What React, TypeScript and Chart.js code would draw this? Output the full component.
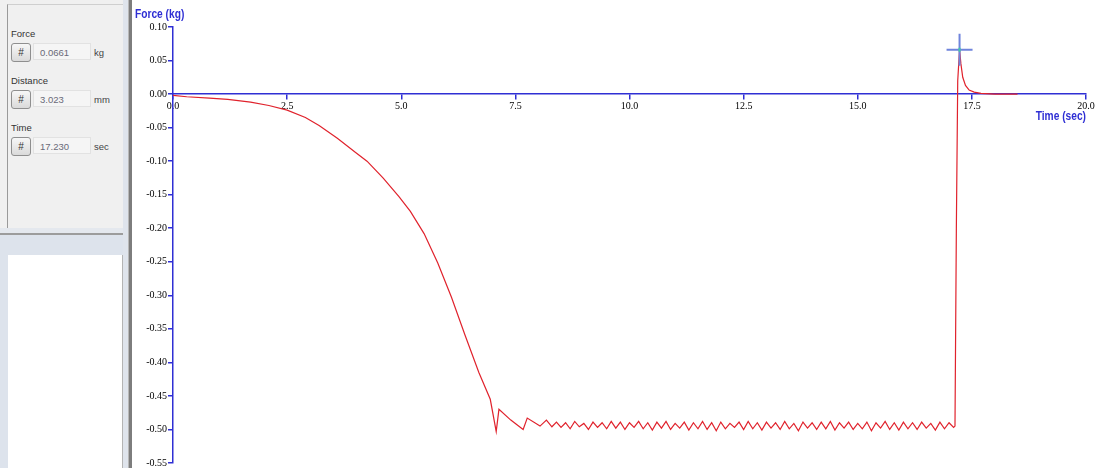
import React, { useEffect, useRef } from "react";
import { Chart, registerables } from "chart.js";

Chart.register(...registerables);

// ---- data ----
const curveTime = [0, 0.3, 0.8, 1.2, 1.7, 2.1, 2.5, 2.9, 3.2, 3.6, 4.0, 4.25, 4.6, 4.95, 5.2, 5.5, 5.8, 6.1, 6.4, 6.7, 6.95, 7.08, 7.14, 7.4, 7.67, 7.76, 8.04, 8.18];
const curveForce = [-0.002, -0.004, -0.006, -0.008, -0.012, -0.017, -0.024, -0.035, -0.047, -0.066, -0.087, -0.1, -0.125, -0.153, -0.175, -0.208, -0.252, -0.303, -0.36, -0.415, -0.455, -0.503, -0.47, -0.486, -0.5, -0.483, -0.495, -0.486];

const plateauTime = [8.3, 8.4, 8.5, 8.6, 8.7, 8.8, 8.9, 9.0, 9.1, 9.2, 9.3, 9.4, 9.5, 9.6, 9.7, 9.8, 9.9, 10.0, 10.1, 10.2, 10.3, 10.4, 10.5, 10.6, 10.7, 10.8, 10.9, 11.0, 11.1, 11.2, 11.3, 11.4, 11.5, 11.6, 11.7, 11.8, 11.9, 12.0, 12.1, 12.2, 12.3, 12.4, 12.5, 12.6, 12.7, 12.8, 12.9, 13.0, 13.1, 13.2, 13.3, 13.4, 13.5, 13.6, 13.7, 13.8, 13.9, 14.0, 14.1, 14.2, 14.3, 14.4, 14.5, 14.6, 14.7, 14.8, 14.9, 15.0, 15.1, 15.2, 15.3, 15.4, 15.5, 15.6, 15.7, 15.8, 15.9, 16.0, 16.1, 16.2, 16.3, 16.4, 16.5, 16.6, 16.7, 16.8, 16.9, 17.0, 17.1];
const plateauForce = [-0.496, -0.489, -0.497, -0.49, -0.499, -0.488, -0.496, -0.491, -0.5, -0.489, -0.497, -0.49, -0.499, -0.488, -0.498, -0.489, -0.5, -0.49, -0.497, -0.488, -0.499, -0.49, -0.501, -0.489, -0.498, -0.488, -0.5, -0.491, -0.498, -0.489, -0.501, -0.49, -0.499, -0.488, -0.5, -0.49, -0.502, -0.489, -0.499, -0.491, -0.497, -0.489, -0.5, -0.488, -0.499, -0.49, -0.501, -0.489, -0.498, -0.49, -0.5, -0.488, -0.499, -0.491, -0.502, -0.489, -0.498, -0.49, -0.5, -0.489, -0.499, -0.488, -0.501, -0.49, -0.498, -0.489, -0.5, -0.491, -0.499, -0.489, -0.502, -0.49, -0.498, -0.488, -0.5, -0.49, -0.501, -0.489, -0.499, -0.49, -0.5, -0.489, -0.498, -0.491, -0.501, -0.489, -0.499, -0.49, -0.497];

const releaseTime = [17.13, 17.16, 17.19, 17.23, 17.26, 17.3, 17.36, 17.44, 17.55, 17.7, 18.0, 18.5];
const releaseForce = [-0.495, -0.2, 0.02, 0.0661, 0.045, 0.025, 0.013, 0.006, 0.003, 0.001, 0.0, 0.0];

const cursorTime = 17.23;
const cursorForce = 0.0661;

const xMin = 0, xMax = 20, xStep = 2.5;
const yMin = -0.55, yMax = 0.1, yStep = 0.05;

const readouts = [
  { label: "Force", value: "0.0661", unit: "kg" },
  { label: "Distance", value: "3.023", unit: "mm" },
  { label: "Time", value: "17.230", unit: "sec" },
];

const BLUE = "#2f2fd4";
const RED = "#e0222c";
const TICK_FONT = { family: '"Liberation Serif", "Times New Roman", serif', size: 10 };

function condensedText(ctx: CanvasRenderingContext2D, text: string, x: number, y: number, align: CanvasTextAlign) {
  ctx.save();
  ctx.translate(x, y);
  ctx.scale(0.85, 1);
  ctx.textAlign = align;
  ctx.textBaseline = "middle";
  ctx.fillText(text, 0, 0);
  ctx.restore();
}

const overlayPlugin = {
  id: "overlay",
  afterDatasetsDraw(chart: any) {
    const { ctx, chartArea, scales } = chart;
    const xs = scales.x;
    const ys = scales.y;
    ctx.save();
    // cursor
    const cx = xs.getPixelForValue(cursorTime);
    const cy = ys.getPixelForValue(cursorForce);
    ctx.strokeStyle = "#6f84dc";
    ctx.lineWidth = 2;
    ctx.beginPath();
    ctx.moveTo(cx - 13, cy);
    ctx.lineTo(cx + 13, cy);
    ctx.moveTo(cx, cy - 16);
    ctx.lineTo(cx, cy + 16);
    ctx.stroke();
    ctx.fillStyle = "#3fc9a8";
    ctx.fillRect(cx - 1, cy - 2, 2, 4);
    // axis titles
    ctx.fillStyle = BLUE;
    ctx.font = 'bold 12px "Liberation Sans", Arial, sans-serif';
    condensedText(ctx, "Force (kg)", 2, 15, "left");
    const zeroY = ys.getPixelForValue(0);
    condensedText(ctx, "Time (sec)", chartArea.right, zeroY + 23, "right");
    ctx.restore();
  },
};

function ForceChart() {
  const ref = useRef<HTMLCanvasElement | null>(null);
  useEffect(() => {
    if (!ref.current) return;
    const pts = [
      ...curveTime.map((t, i) => ({ x: t, y: curveForce[i] })),
      ...plateauTime.map((t, i) => ({ x: t, y: plateauForce[i] })),
      ...releaseTime.map((t, i) => ({ x: t, y: releaseForce[i] })),
    ];
    const chart = new Chart(ref.current, {
      type: "scatter",
      data: {
        datasets: [
          {
            data: pts,
            showLine: true,
            borderColor: RED,
            borderWidth: 1.2,
            pointRadius: 0,
            tension: 0,
          },
        ],
      },
      options: {
        animation: false,
        responsive: false,
        maintainAspectRatio: false,
        layout: { padding: { left: 0, top: 27, right: 11, bottom: 4 } },
        plugins: { legend: { display: false }, tooltip: { enabled: false }, title: { display: false } },
        scales: {
          x: {
            type: "linear",
            min: xMin,
            max: xMax,
            position: { y: 0 } as any,
            border: { color: BLUE, width: 1.5 },
            grid: { drawOnChartArea: false, drawTicks: true, tickLength: 5, color: BLUE, lineWidth: 1.5 },
            ticks: {
              stepSize: xStep,
              autoSkip: false,
              maxRotation: 0,
              padding: 1,
              color: "#000",
              font: TICK_FONT,
              callback: (v: any) => Number(v).toFixed(1),
            },
          },
          y: {
            type: "linear",
            min: yMin,
            max: yMax,
            position: "left",
            afterFit: (s: any) => {
              s.width = 40;
            },
            border: { color: BLUE, width: 1.5 },
            grid: { drawOnChartArea: false, drawTicks: true, tickLength: 5, color: BLUE, lineWidth: 1.5 },
            ticks: {
              stepSize: yStep,
              autoSkip: false,
              padding: 1,
              color: "#000",
              font: TICK_FONT,
              callback: (v: any) => Number(v).toFixed(2),
            },
          },
        },
      },
      plugins: [overlayPlugin],
    });
    return () => chart.destroy();
  }, []);
  return <canvas ref={ref} width={964} height={470} style={{ position: "absolute", left: 133, top: 0, width: 964, height: 470 }} />;
}

function Readout({ label, value, unit, top }: { label: string; value: string; unit: string; top: number }) {
  const font = '"Liberation Sans", Arial, sans-serif';
  return (
    <>
      <div style={{ position: "absolute", left: 11, top: top, fontFamily: font, fontSize: 9.5, color: "#333", lineHeight: "11px" }}>{label}</div>
      <div
        style={{
          position: "absolute",
          left: 11,
          top: top + 15,
          width: 18,
          height: 17,
          border: "1px solid #8f8f8f",
          borderRadius: 3,
          background: "linear-gradient(#f7f7f7, #dadada)",
          fontFamily: font,
          fontSize: 10,
          lineHeight: "17px",
          textAlign: "center",
          color: "#333",
        }}
      >
        #
      </div>
      <div
        style={{
          position: "absolute",
          left: 33,
          top: top + 15,
          width: 58,
          height: 17,
          border: "1px solid #e2e2e2",
          background: "#f5f5f5",
          fontFamily: font,
          fontSize: 9.5,
          lineHeight: "17px",
          color: "#6a6a78",
          paddingLeft: 6,
          boxSizing: "border-box",
        }}
      >
        {value}
      </div>
      <div style={{ position: "absolute", left: 94, top: top + 19, fontFamily: font, fontSize: 9.5, color: "#444", lineHeight: "11px" }}>{unit}</div>
    </>
  );
}

export default function App() {
  const tops = [28, 75, 122];
  return (
    <div style={{ position: "fixed", left: 0, top: 0, width: 1097, height: 468, overflow: "hidden", background: "#ffffff" }}>
      {/* left instrument panel */}
      <div style={{ position: "absolute", left: 0, top: 0, width: 128, height: 468, background: "#f0f0f0" }} />
      <div style={{ position: "absolute", left: 7, top: 4, width: 116, height: 224, borderLeft: "1px solid #9a9a9a", borderTop: "1px solid #cfcfcf", boxSizing: "border-box" }} />
      {readouts.map((r, i) => (
        <Readout key={r.label} label={r.label} value={r.value} unit={r.unit} top={tops[i]} />
      ))}
      <div style={{ position: "absolute", left: 0, top: 228, width: 128, height: 5, background: "#e4e8ee" }} />
      <div style={{ position: "absolute", left: 0, top: 233, width: 128, height: 2, background: "#9c9c9c" }} />
      <div style={{ position: "absolute", left: 0, top: 235, width: 128, height: 20, background: "#dde3ec" }} />
      <div style={{ position: "absolute", left: 0, top: 255, width: 128, height: 213, background: "#dde3ec" }} />
      <div style={{ position: "absolute", left: 8, top: 255, width: 115, height: 213, background: "#ffffff", borderRight: "1px solid #b4b4b4", boxSizing: "border-box" }} />
      <div style={{ position: "absolute", left: 123, top: 0, width: 5, height: 468, background: "#dfe4ec" }} />
      <div style={{ position: "absolute", left: 128, top: 0, width: 1, height: 468, background: "#b8b8b8" }} />
      <div style={{ position: "absolute", left: 129, top: 0, width: 3, height: 468, background: "#7d7d7d" }} />
      <ForceChart />
    </div>
  );
}
